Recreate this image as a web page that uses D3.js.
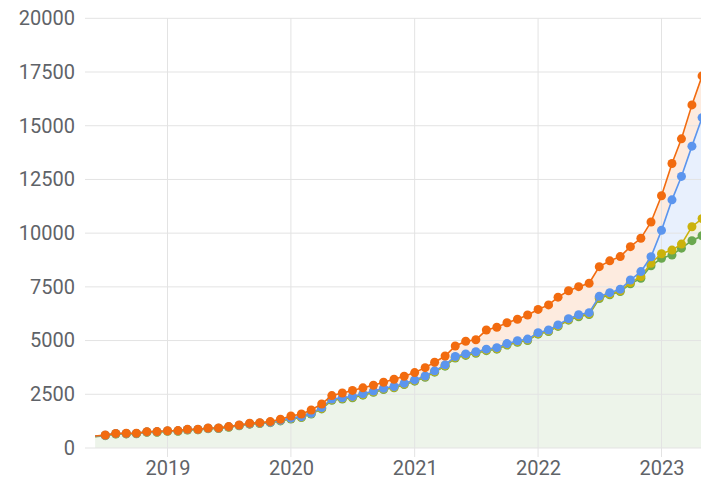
<!DOCTYPE html>
<html>
<head>
<meta charset="utf-8">
<script src="https://cdn.jsdelivr.net/npm/d3@7"></script>
<style>
  body { margin: 0; background: #fff; }
  svg text { font-family: Roboto, "Noto Sans", sans-serif; }
</style>
</head>
<body>
<div id="chart"></div>
<script>
// monthly values, first month is June 2018
var firstMonth = "2018-06";
var yTicks = [0, 2500, 5000, 7500, 10000, 12500, 15000, 17500, 20000];
var xYears = ["2019", "2020", "2021", "2022", "2023"];

var orange = [560, 605, 680, 685, 690, 760, 765,
  805, 810, 870, 875, 930, 935, 995, 1070, 1150, 1180, 1230, 1340,
  1490, 1580, 1770, 2050, 2440, 2560, 2680, 2800, 2920, 3060, 3200, 3340,
  3510, 3740, 3990, 4280, 4750, 4970, 5040, 5490, 5620, 5830, 5990, 6190,
  6450, 6660, 7020, 7320, 7510, 7670, 8440, 8710, 8910, 9370, 9760, 10520,
  11740, 13240, 14390, 15970, 17320];

var blue = [550, 595, 670, 675, 680, 750, 755,
  795, 800, 860, 865, 920, 925, 985, 1055, 1130, 1160, 1200, 1290,
  1390, 1460, 1620, 1880, 2280, 2340, 2400, 2520, 2650, 2780, 2860, 3010,
  3170, 3350, 3590, 3870, 4260, 4380, 4480, 4600, 4670, 4860, 4990, 5070,
  5370, 5490, 5730, 6020, 6200, 6300, 7060, 7230, 7390, 7820, 8210, 8900,
  10130, 11550, 12640, 14050, 15380];

var yellow = [540, 585, 660, 665, 670, 740, 745,
  785, 790, 850, 855, 910, 915, 975, 1045, 1120, 1150, 1190, 1275,
  1370, 1440, 1600, 1850, 2250, 2310, 2370, 2490, 2620, 2750, 2830, 2980,
  3140, 3320, 3560, 3840, 4220, 4340, 4440, 4560, 4630, 4820, 4950, 5030,
  5330, 5450, 5690, 5980, 6150, 6250, 7000, 7170, 7320, 7700, 7980, 8600,
  9040, 9210, 9490, 10300, 10680];

var green = [530, 575, 650, 655, 660, 730, 735,
  775, 780, 840, 845, 900, 905, 965, 1035, 1110, 1140, 1180, 1260,
  1350, 1420, 1580, 1820, 2220, 2280, 2340, 2460, 2590, 2720, 2800, 2950,
  3110, 3290, 3530, 3810, 4190, 4310, 4410, 4530, 4600, 4790, 4920, 5000,
  5300, 5420, 5660, 5950, 6110, 6210, 6960, 7130, 7280, 7640, 7900, 8480,
  8830, 8980, 9300, 9650, 9880];

var width = 701, height = 481;
var plotLeft = 85;

var parseMonth = d3.timeParse("%Y-%m");
var parseYear = d3.timeParse("%Y");
var start = parseMonth(firstMonth);
var dates = orange.map(function(d, i) { return d3.timeMonth.offset(start, i); });

var x = d3.scaleTime()
  .domain([parseYear("2019"), parseYear("2023")])
  .range([167.5, 661.5]);

var y = d3.scaleLinear()
  .domain([0, 20000])
  .range([448, 18.3]);

var svg = d3.select("#chart")
  .append("svg")
  .attr("width", width)
  .attr("height", height);

// series from bottom to top, each band fills down to the one below it
var series = [
  { values: green, below: null, line: "#6aa84f", fill: "#edf4ea" },
  { values: yellow, below: green, line: "#cbb20c", fill: "#f4f3df" },
  { values: blue, below: yellow, line: "#5b95ee", fill: "#e8f0fd" },
  { values: orange, below: blue, line: "#f26b0f", fill: "#fdebdf" }
];

series.forEach(function(s) {
  var area = d3.area()
    .x(function(d, i) { return x(dates[i]); })
    .y0(function(d, i) { return s.below ? y(s.below[i]) : y(0); })
    .y1(function(d) { return y(d); });
  svg.append("path")
    .datum(s.values)
    .attr("d", area)
    .attr("fill", s.fill);
});

// horizontal grid
svg.append("g")
  .attr("class", "grid")
  .selectAll("line")
  .data(yTicks)
  .enter()
  .append("line")
  .attr("x1", plotLeft)
  .attr("x2", width + 20)
  .attr("y1", function(d) { return y(d); })
  .attr("y2", function(d) { return y(d); })
  .attr("stroke", "#e3e3e3")
  .attr("stroke-width", 1);

// vertical grid, runs a little past the baseline like a tick
svg.append("g")
  .attr("class", "grid")
  .selectAll("line")
  .data(xYears)
  .enter()
  .append("line")
  .attr("x1", function(d) { return x(parseYear(d)); })
  .attr("x2", function(d) { return x(parseYear(d)); })
  .attr("y1", y(20000))
  .attr("y2", y(0) + 9)
  .attr("stroke", "#e3e3e3")
  .attr("stroke-width", 1);

// y axis labels
var yAxis = svg.append("g")
  .attr("transform", "translate(" + plotLeft + ",0)")
  .call(
    d3.axisLeft(y)
      .tickValues(yTicks)
      .tickFormat(d3.format("d"))
      .tickSize(0)
      .tickPadding(10)
  );
yAxis.select(".domain").remove();
yAxis.selectAll("text")
  .attr("fill", "#5f6368")
  .style("font-size", "20px");

// x axis labels (kept just inside the bottom edge)
var xAxis = svg.append("g")
  .attr("transform", "translate(0," + y(0) + ")")
  .call(
    d3.axisBottom(x)
      .tickValues(xYears.map(parseYear))
      .tickFormat(d3.timeFormat("%Y"))
      .tickSize(0)
      .tickPadding(13)
  );
xAxis.select(".domain").remove();
xAxis.selectAll("text")
  .attr("fill", "#5f6368")
  .style("font-size", "20px");

// lines and dots, orange ends on top
var line = d3.line()
  .x(function(d, i) { return x(dates[i]); })
  .y(function(d) { return y(d); });

series.forEach(function(s) {
  svg.append("path")
    .datum(s.values)
    .attr("d", line)
    .attr("fill", "none")
    .attr("stroke", s.line)
    .attr("stroke-width", 1.6);

  // the first month has no marker in the original
  svg.append("g")
    .selectAll("circle")
    .data(s.values.slice(1))
    .enter()
    .append("circle")
    .attr("cx", function(d, i) { return x(dates[i + 1]); })
    .attr("cy", function(d) { return y(d); })
    .attr("r", 4.5)
    .attr("fill", s.line);
});
</script>
</body>
</html>
